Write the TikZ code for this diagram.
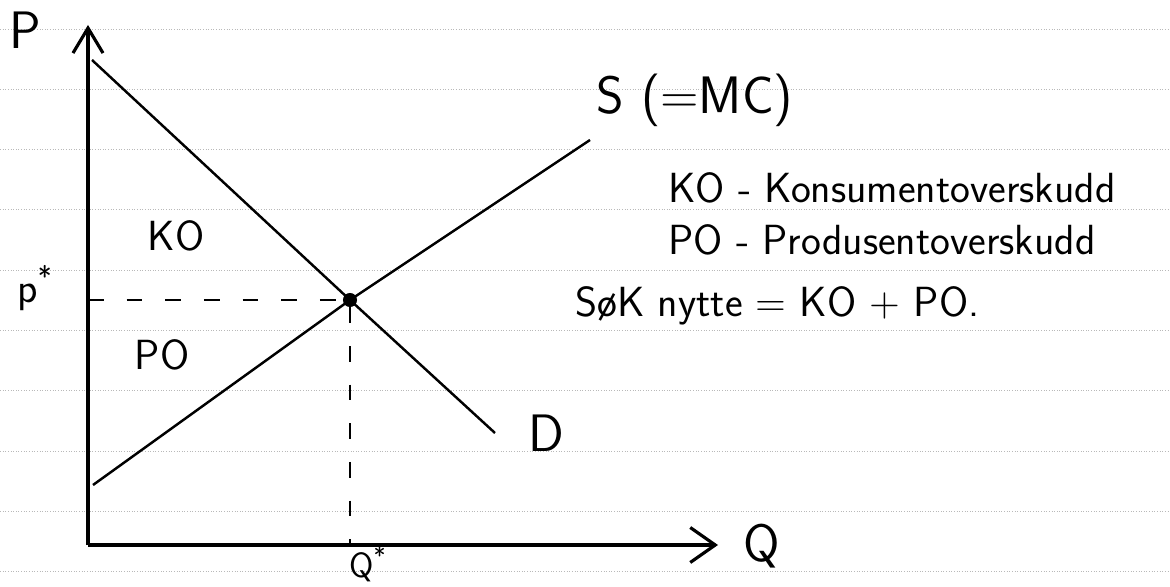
\documentclass[tikz,border=0pt]{standalone}
\usepackage{fontspec}
\usepackage{tikz}
\usetikzlibrary{arrows.meta,positioning,calc}
\definecolor{RuleGray}{RGB}{185,185,185}

\begin{document}
\begin{tikzpicture}[
  x=0.02cm, y=-0.02cm,
  axis/.style={line width=1.8pt},
  curve/.style={line width=1.4pt},
  guide/.style={line width=1pt,dash pattern=on 9pt off 13pt},
  rule/.style={RuleGray,line width=0.5pt,densely dotted},
  hand/.style={font=\sffamily\fontsize{24}{28}\selectfont,inner sep=0pt},
  small/.style={font=\sffamily\fontsize{20}{24}\selectfont,inner sep=0pt},
  big/.style={font=\sffamily\fontsize{30}{34}\selectfont,inner sep=0pt},
  legend/.style={hand,anchor=west}
]
\useasboundingbox (0,0) rectangle (1170,587);
% lined paper
\foreach \k in {0,...,9}
  \draw[rule] (0,29+60.3*\k) -- (1170,29+60.3*\k);
% axes
\coordinate (O) at (88,545);
\coordinate (ptop) at (88,25);
\coordinate (qend) at (718,545);
\draw[axis,-{Straight Barb[length=5mm,width=6mm]}] (O) -- (ptop);
\draw[axis,-{Straight Barb[length=5mm,width=7mm]}] (O) -- (qend);
% equilibrium
\node[circle,fill,inner sep=0pt,minimum size=8pt] (eq) at (350,300) {};
\coordinate (dtop) at (92,60);
\coordinate (dbot) at (495,433);
\coordinate (sbot) at (93,485);
\coordinate (stop) at (590,140);
\draw[curve] (dtop) -- (eq.center) -- (dbot);
\draw[curve] (sbot) -- (eq.center) -- (stop);
\draw[guide] (O |- eq) -- (eq);
\draw[guide] (eq) -- (eq |- O);
% labels
\node[big] (plbl) at (25,30) {P};
\node[hand] (pstar) at (35,288) {p\textsuperscript{*}};
\node[small] (qstar) at (368,564) {Q\textsuperscript{*}};
\node[big] (qlbl) at (762,546) {Q};
\node[big] (dlbl) at (546,433) {D};
\node[big] (slbl) at (695,100) {S (=MC)};
\node[hand] (ko) at (176,236) {KO};
\node[hand] (po) at (162,355) {PO};
% legend
\node[legend] (kolgd) at (668,188) {KO - Konsumentoverskudd};
\node[legend] (polgd) at (668,240) {PO - Produsentoverskudd};
\node[legend] (sumlgd) at (575,306) {SøK nytte = KO + PO.};
\end{tikzpicture}
\end{document}
